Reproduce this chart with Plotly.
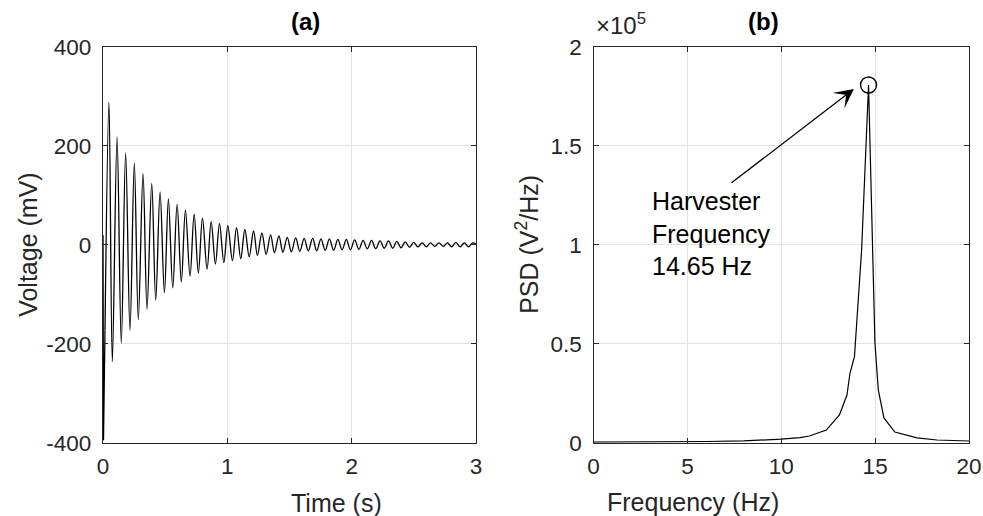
import plotly.graph_objects as go

# ---------------- data: panel (a) voltage decay ----------------
transient_t = [0.0, 0.004, 0.016]
transient_v = [20, -395, -173]

peak_t = [0.048, 0.113, 0.182, 0.252, 0.322, 0.392, 0.459, 0.526, 0.596, 0.663,
          0.733, 0.800, 0.870, 0.937, 1.004, 1.074, 1.141, 1.211, 1.278, 1.348,
          1.415, 1.482, 1.550, 1.618, 1.686, 1.753, 1.821, 1.889, 1.957, 2.024,
          2.092, 2.160, 2.228, 2.296, 2.363, 2.431, 2.499, 2.567, 2.634, 2.702,
          2.770, 2.838, 2.906, 2.973]
peak_v = [288, 218, 186, 165, 144, 124, 107, 93, 82, 70,
          62, 54, 47, 43, 39, 35, 31, 28, 24, 20,
          18, 15, 14, 13, 13, 12, 12, 11, 11, 10,
          9, 9, 8, 8, 7, 6, 5, 4, 4, 4,
          4, 5, 4, 4]

trough_t = [0.075, 0.147, 0.217, 0.284, 0.354, 0.424, 0.494, 0.561, 0.630, 0.700,
            0.767, 0.837, 0.904, 0.972, 1.041, 1.108, 1.176, 1.242, 1.312, 1.379,
            1.447, 1.515, 1.583, 1.651, 1.719, 1.787, 1.855, 1.923, 1.990, 2.058,
            2.126, 2.194, 2.262, 2.330, 2.397, 2.465, 2.533, 2.601, 2.669, 2.737,
            2.804, 2.872, 2.940]
trough_v = [-236, -199, -173, -151, -130, -112, -97, -87, -75, -63,
            -57, -49, -39, -36, -32, -28, -24, -21, -19, -16,
            -15, -14, -13, -12, -12, -11, -11, -10, -10, -9,
            -8, -8, -7, -7, -6, -5, -4, -4, -3, -3,
            -4, -4, -4]
end_t = [3.0]
end_v = [1]

# ---------------- data: panel (b) PSD ----------------
psd_freq = [0, 2, 4, 6, 8, 9, 10, 11, 11.5, 12.4, 13.1, 13.5, 13.66, 13.9, 14.02,
            14.28, 14.65, 14.99, 15.17, 15.47, 16.05, 16.27, 17.23, 18.3, 20]
psd_val = [300, 350, 450, 600, 900, 1200, 1800, 2600, 3400, 6400, 14000, 24100, 35100,
           43500, 60300, 97400, 180800, 50400, 26600, 12500, 5400, 4900, 2400, 1360, 860]
harvester_freq = 14.65

x_ticks_a = [0, 1, 2, 3]
y_ticks_a = [-400, -200, 0, 200, 400]
y_ticktext_a = ["-400", "-200", "0", "200", "400"]
x_ticks_b = [0, 5, 10, 15, 20]
y_ticks_b = [0, 50000, 100000, 150000, 200000]
y_ticktext_b = ["0", "0.5", "1", "1.5", "2"]

# ---------------- build ----------------
osc = sorted(zip(peak_t + trough_t + end_t, peak_v + trough_v + end_v))
osc_t = [transient_t[-1]] + [p[0] for p in osc]
osc_v = [transient_v[-1]] + [p[1] for p in osc]

W, H = 983, 516
FONT = "Liberation Sans, Arial, Helvetica, sans-serif"
TXT = "#262626"
GRID = "#e3e3e3"

fig = go.Figure()
fig.add_trace(go.Scatter(x=transient_t, y=transient_v, mode="lines",
                         line=dict(color="black", width=1.3), xaxis="x", yaxis="y",
                         showlegend=False, hoverinfo="skip"))
fig.add_trace(go.Scatter(x=osc_t, y=osc_v, mode="lines",
                         line=dict(color="black", width=1.3, shape="spline", smoothing=1.0),
                         xaxis="x", yaxis="y", showlegend=False))
fig.add_trace(go.Scatter(x=psd_freq, y=psd_val, mode="lines",
                         line=dict(color="black", width=1.2), xaxis="x2", yaxis="y2",
                         showlegend=False))
pk = max(psd_val)
fig.add_trace(go.Scatter(x=[harvester_freq], y=[pk], mode="markers",
                         marker=dict(symbol="circle-open", size=16, color="black",
                                     line=dict(width=1.4)),
                         xaxis="x2", yaxis="y2", showlegend=False))

xa = (103 / W, 476 / W)
xb = (593.5 / W, 969 / W)
yd = (1 - 442.7 / H, 1 - 47 / H)

common = dict(showline=True, linecolor=TXT, linewidth=1.4, mirror="allticks",
              ticks="inside", ticklen=5, tickwidth=1.4, tickcolor=TXT,
              showgrid=True, gridcolor=GRID, gridwidth=1, zeroline=False,
              automargin=False,
              tickfont=dict(family=FONT, size=22.5, color=TXT))

fig.update_layout(
    template="none",
    width=W, height=H, margin=dict(l=0, r=0, t=0, b=0, pad=0, autoexpand=False),
    paper_bgcolor="white", plot_bgcolor="white",
    font=dict(family=FONT, color=TXT),
    showlegend=False,
    xaxis=dict(domain=list(xa), anchor="y", range=[0, 3], tickvals=x_ticks_a,
               ticklabelstandoff=3, **common),
    yaxis=dict(domain=list(yd), anchor="x", range=[-400, 400], tickvals=y_ticks_a,
               ticktext=y_ticktext_a, ticklabelstandoff=6, **common),
    xaxis2=dict(domain=list(xb), anchor="y2", range=[0, 20], tickvals=x_ticks_b,
                ticklabelstandoff=3, **common),
    yaxis2=dict(domain=list(yd), anchor="x2", range=[0, 200000], tickvals=y_ticks_b,
                ticktext=y_ticktext_b, ticklabelstandoff=6, **common),
)

def px_x(p):
    return p / W

def px_y(p):
    return 1 - p / H

ann = [
    dict(text="<b>(a)</b>", x=(xa[0] + xa[1]) / 2, y=px_y(22), xref="paper", yref="paper",
         showarrow=False, font=dict(size=24, family=FONT, color="black"), yanchor="middle"),
    dict(text="<b>(b)</b>", x=(xb[0] + xb[1]) / 2, y=px_y(22), xref="paper", yref="paper",
         showarrow=False, font=dict(size=24, family=FONT, color="black"), yanchor="middle"),
    dict(text="Time (s)", x=(xa[0] + xa[1]) / 2, y=px_y(503), xref="paper", yref="paper",
         showarrow=False, font=dict(size=25, family=FONT, color=TXT), yanchor="middle"),
    dict(text="Frequency (Hz)", x=(xb[0] + xb[1]) / 2, y=px_y(502), xref="paper", yref="paper",
         showarrow=False, font=dict(size=25, family=FONT, color=TXT), yanchor="middle"),
    dict(text="Voltage (mV)", x=px_x(28), y=(yd[0] + yd[1]) / 2, xref="paper", yref="paper",
         showarrow=False, textangle=-90, font=dict(size=25, family=FONT, color=TXT),
         xanchor="center", yanchor="middle"),
    dict(text="PSD (V<sup>2</sup>/Hz)", x=px_x(527), y=(yd[0] + yd[1]) / 2, xref="paper",
         yref="paper", showarrow=False, textangle=-90,
         font=dict(size=25, family=FONT, color=TXT), xanchor="center", yanchor="middle"),
    dict(text="×10<sup>5</sup>", x=px_x(594), y=px_y(41), xref="paper", yref="paper",
         showarrow=False, xanchor="left", yanchor="bottom",
         font=dict(size=24, family=FONT, color=TXT)),
    dict(text="Harvester<br>Frequency<br>14.65 Hz", x=px_x(650), y=px_y(234), xref="paper",
         yref="paper", showarrow=False, xanchor="left", yanchor="middle", align="left",
         font=dict(size=25, family=FONT, color="black")),
    dict(text="", x=13.87, y=178800, xref="x2", yref="y2",
         ax=7.27, ay=130750, axref="x2", ayref="y2",
         showarrow=True, arrowhead=3, arrowsize=2.5, arrowwidth=1.3, arrowcolor="black",
         standoff=0),
]
fig.update_layout(annotations=ann)

fig.write_html("out.html")
